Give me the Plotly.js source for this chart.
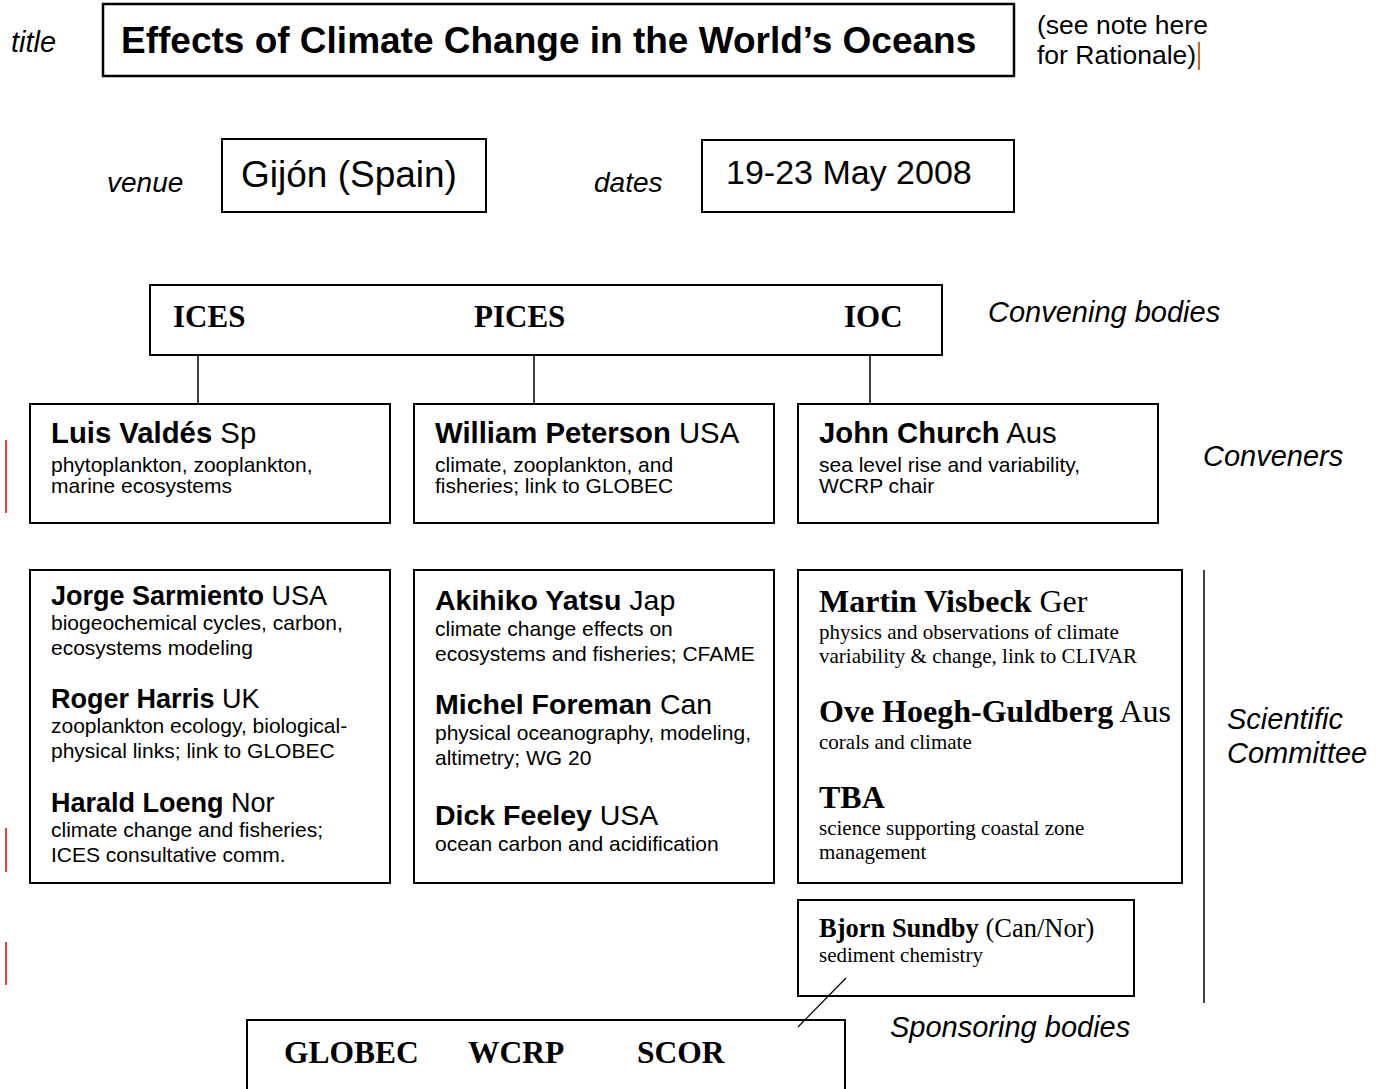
<!DOCTYPE html>
<html>
<head>
<meta charset="utf-8">
<script src="https://cdn.plot.ly/plotly-3.0.1.min.js"></script>
<style>html,body{margin:0;padding:0;background:#fff;}#chart{width:1383px;height:1089px;}</style>
</head>
<body>
<div id="chart"></div>
<script>
// ---- content ----
const titleText = "Effects of Climate Change in the World’s Oceans";
const noteLines = ["(see note here", "for Rationale)"];
const venueText = "Gijón (Spain)";
const datesText = "19-23 May 2008";
const fieldLabels = ["title", "venue", "dates"];
const conveningBodies = ["ICES", "PICES", "IOC"];
const sponsoringBodies = ["GLOBEC", "WCRP", "SCOR"];
const sectionLabels = ["Convening bodies", "Conveners", "Scientific", "Committee", "Sponsoring bodies"];

const convenerNames = ["Luis Valdés", "William Peterson", "John Church"];
const convenerCountries = ["Sp", "USA", "Aus"];
const convenerTopics = [
  ["phytoplankton, zooplankton,", "marine ecosystems"],
  ["climate, zooplankton, and", "fisheries; link to GLOBEC"],
  ["sea level rise and variability,", "WCRP chair"]
];

const committeeCol1Names = ["Jorge Sarmiento", "Roger Harris", "Harald Loeng"];
const committeeCol1Countries = ["USA", "UK", "Nor"];
const committeeCol1Topics = [
  ["biogeochemical cycles, carbon,", "ecosystems modeling"],
  ["zooplankton ecology, biological-", "physical links; link to GLOBEC"],
  ["climate change and fisheries;", "ICES consultative comm."]
];
const committeeCol2Names = ["Akihiko Yatsu", "Michel Foreman", "Dick Feeley"];
const committeeCol2Countries = ["Jap", "Can", "USA"];
const committeeCol2Topics = [
  ["climate change effects on", "ecosystems and fisheries; CFAME"],
  ["physical oceanography, modeling,", "altimetry; WG 20"],
  ["ocean carbon and acidification"]
];
const committeeCol3Names = ["Martin Visbeck", "Ove Hoegh-Guldberg", "TBA"];
const committeeCol3Countries = ["Ger", "Aus", ""];
const committeeCol3Topics = [
  ["physics and observations of climate", "variability & change, link to CLIVAR"],
  ["corals and climate"],
  ["science supporting coastal zone", "management"]
];
const extraMemberName = "Bjorn Sundby";
const extraMemberCountry = "(Can/Nor)";
const extraMemberTopic = "sediment chemistry";

// ---- drawing helpers ----
const SANS = "Liberation Sans, Arial, Helvetica, sans-serif";
const SERIF = "Liberation Serif, Times New Roman, serif";
const shapes = [];
const annotations = [];
function box(x0, y0, x1, y1, w) {
  shapes.push({type: 'rect', xref: 'x', yref: 'y', x0, y0, x1, y1,
    line: {color: 'black', width: w || 2}, fillcolor: 'rgba(0,0,0,0)', layer: 'below'});
}
function seg(x0, y0, x1, y1, color, w) {
  shapes.push({type: 'line', xref: 'x', yref: 'y', x0, y0, x1, y1,
    line: {color: color || 'black', width: w || 1.5}});
}
function txt(x, y, text, size, family, anchor) {
  annotations.push({x, y, xref: 'x', yref: 'y', text, showarrow: false,
    xanchor: anchor || 'left', yanchor: 'middle', align: 'left',
    borderpad: 0, font: {size, family, color: 'black'}});
}
function person(x, y, name, country, topics, nameSize, family, lineGap, firstGap) {
  txt(x, y, '<b>' + name + '</b>' + (country ? ' ' + country : ''), nameSize, family);
  topics.forEach((t, i) => txt(x, y + firstGap + i * lineGap, t, 21, family));
}

// ---- top section ----
txt(10, 42, '<i>' + fieldLabels[0] + '</i>', 29, SANS);
box(103, 4, 1014, 76, 2.5);
txt(120, 40, '<b>' + titleText + '</b>', 37, SANS);
txt(1036, 25, noteLines[0], 26.5, SANS);
txt(1036, 55, noteLines[1], 26.5, SANS);
seg(1199, 42, 1199, 70, '#d9661f', 2);

txt(106, 182, '<i>' + fieldLabels[1] + '</i>', 28, SANS);
box(222, 139, 486, 212, 2);
txt(240, 174, venueText, 37, SANS);
txt(593, 182, '<i>' + fieldLabels[2] + '</i>', 28, SANS);
box(702, 140, 1014, 212, 2);
txt(725, 172, datesText, 34, SANS);

// ---- convening bodies ----
box(150, 285, 942, 355, 2);
const convX = [172, 473, 843];
conveningBodies.forEach((b, i) => txt(convX[i], 316, '<b>' + b + '</b>', 31, SERIF));
txt(987, 312, '<i>' + sectionLabels[0] + '</i>', 29, SANS);
[198, 534, 870].forEach(x => seg(x, 355, x, 404, 'black', 1.5));

// ---- conveners ----
const colX = [30, 414, 798];
colX.forEach((x, i) => {
  box(x, 404, x + 360, 523, 2);
  person(x + 20, 432, convenerNames[i], convenerCountries[i], convenerTopics[i], 29.3, SANS, 21, 32);
});
txt(1202, 456, '<i>' + sectionLabels[1] + '</i>', 29, SANS);
seg(6, 440, 6, 513, '#e00000', 1.5);

// ---- scientific committee ----
box(30, 570, 390, 883, 2);
box(414, 570, 774, 883, 2);
box(798, 570, 1182, 883, 2);
const c1Y = [596, 699, 803];
committeeCol1Names.forEach((n, i) => person(50, c1Y[i], n, committeeCol1Countries[i], committeeCol1Topics[i], 27, SANS, 25, 26));
const c2Y = [600, 704, 815];
committeeCol2Names.forEach((n, i) => person(434, c2Y[i], n, committeeCol2Countries[i], committeeCol2Topics[i], 28.5, SANS, 25, 28));
const c3Y = [601, 711, 797];
committeeCol3Names.forEach((n, i) => person(818, c3Y[i], n, committeeCol3Countries[i], committeeCol3Topics[i], 32, SERIF, 24, 31));
seg(1204, 570, 1204, 1003, 'black', 1.5);
txt(1226, 719, '<i>' + sectionLabels[2] + '</i>', 29, SANS);
txt(1226, 753, '<i>' + sectionLabels[3] + '</i>', 29, SANS);
seg(6, 828, 6, 872, '#e00000', 1.5);

// ---- extra member + sponsors ----
box(798, 900, 1134, 996, 2);
person(818, 928, extraMemberName, extraMemberCountry, [extraMemberTopic], 26.5, SERIF, 24, 27);
seg(846, 978, 798, 1027, 'black', 1.2);
seg(6, 942, 6, 985, '#e00000', 1.5);
box(247, 1020, 845, 1100, 2);
const spX = [283, 467, 636];
sponsoringBodies.forEach((b, i) => txt(spX[i], 1052, '<b>' + b + '</b>', 31.5, SERIF));
txt(889, 1027, '<i>' + sectionLabels[4] + '</i>', 29, SANS);

const layout = {
  width: 1383, height: 1089,
  margin: {l: 0, r: 0, t: 0, b: 0, pad: 0},
  paper_bgcolor: '#ffffff', plot_bgcolor: '#ffffff',
  xaxis: {range: [0, 1383], visible: false, fixedrange: true},
  yaxis: {range: [1089, 0], visible: false, fixedrange: true},
  showlegend: false,
  shapes, annotations
};
Plotly.newPlot('chart', [{x: [], y: [], type: 'scatter', hoverinfo: 'skip'}], layout, {displayModeBar: false, staticPlot: true});
</script>
</body>
</html>
